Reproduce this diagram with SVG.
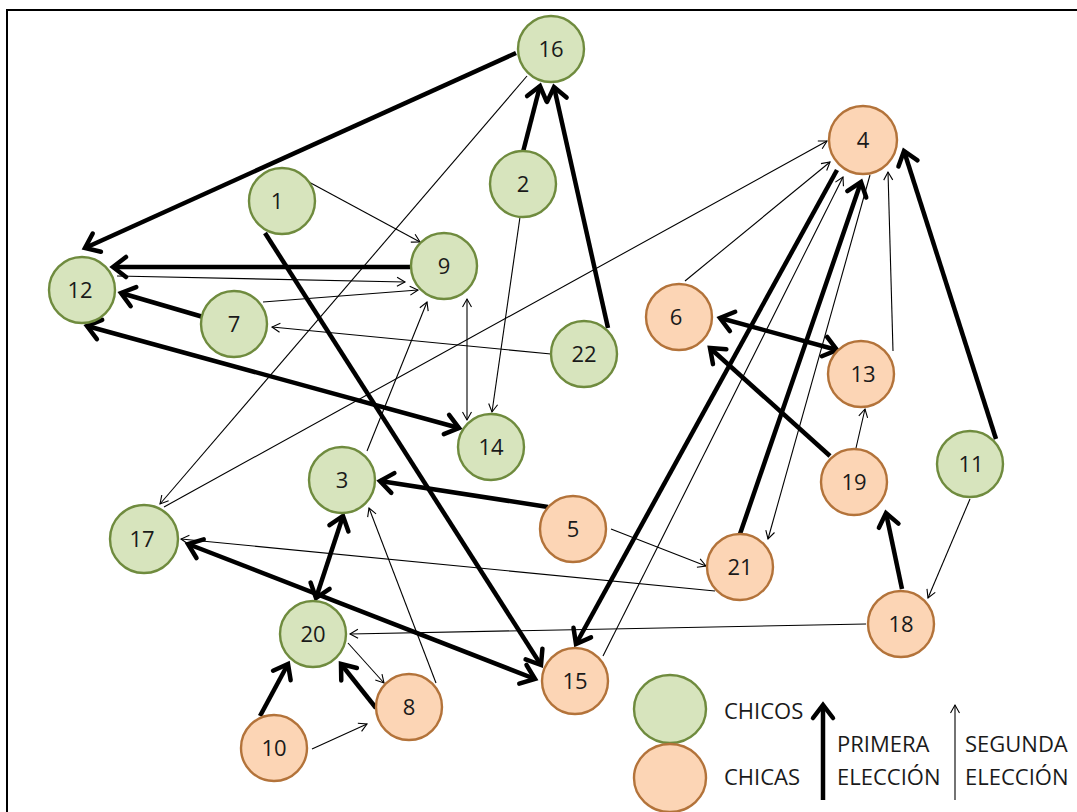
<svg xmlns="http://www.w3.org/2000/svg" width="1077" height="812" viewBox="0 0 1077 812">
<defs>
<style>
.g{fill:#d7e4bd;stroke:#6f8b3e;stroke-width:2.4}
.o{fill:#fcd5b5;stroke:#b3733a;stroke-width:2.4}
.t{font-family:"Open Sans","Liberation Sans",Arial,sans-serif;font-size:22px;fill:#1a1a1a;text-anchor:middle}
.l{font-family:"Open Sans","Liberation Sans",Arial,sans-serif;font-size:22px;fill:#1a1a1a}
.k{stroke:#000;stroke-width:4.5;fill:none;marker-end:url(#hk)}
.kd{stroke:#000;stroke-width:4.5;fill:none;marker-end:url(#hk);marker-start:url(#hk)}
.s{stroke:#000;stroke-width:1.1;fill:none;marker-end:url(#hs)}
.sd{stroke:#000;stroke-width:1.1;fill:none;marker-end:url(#hs);marker-start:url(#hs)}
</style>
<marker id="hk" markerUnits="userSpaceOnUse" viewBox="-18 -14 22 28" markerWidth="22" markerHeight="28" refX="0" refY="0" orient="auto-start-reverse">
<path d="M-13,-10 L0,0 L-13,10" fill="none" stroke="#000" stroke-width="4.5" stroke-linejoin="miter" stroke-linecap="round"/>
</marker>
<marker id="hs" markerUnits="userSpaceOnUse" viewBox="-11 -7 13 14" markerWidth="13" markerHeight="14" refX="0" refY="0" orient="auto-start-reverse">
<path d="M-8,-4.5 L0,0 L-8,4.5" fill="none" stroke="#000" stroke-width="1.1"/>
</marker>
</defs>
<rect x="0" y="0" width="1077" height="812" fill="#fff"/>
<rect x="7" y="10" width="1100" height="830" fill="none" stroke="#000" stroke-width="2"/>

<g id="connectors">
<!-- first choice (thick) -->
<path class="k" d="M516,53 L85,248"/>
<path class="k" d="M410,267 L113,267"/>
<path class="k" d="M210,319 L121,293"/>
<path class="kd" d="M87,326 L459,428"/>
<path class="k" d="M265,233 L541,665"/>
<path class="k" d="M523,152 L540,86"/>
<path class="k" d="M608,328 L554,87"/>
<path class="k" d="M548,507 L380,481"/>
<path class="kd" d="M343,516 L316,598"/>
<path class="kd" d="M188,544 L535,679"/>
<path class="k" d="M260,716 L288,664"/>
<path class="k" d="M376,708 L341,664"/>
<path class="k" d="M837,170 L576,644"/>
<path class="k" d="M740,534 L861,182"/>
<path class="kd" d="M720,318 L837,350"/>
<path class="k" d="M830,456 L710,348"/>
<path class="k" d="M996,439 L904,151"/>
<path class="k" d="M902,589 L886,513"/>
<!-- second choice (thin) -->
<path class="s" d="M307,181 L420,242"/>
<path class="s" d="M117,276 L405,282"/>
<path class="s" d="M263,302 L418,290"/>
<path class="s" d="M551,354 L272,327"/>
<path class="s" d="M527,76 L160,504"/>
<path class="s" d="M164,507 L827,141"/>
<path class="s" d="M520,217 L492,412"/>
<path class="sd" d="M467,299 L467,420"/>
<path class="s" d="M367,451 L427,302"/>
<path class="s" d="M436,683 L369,508"/>
<path class="s" d="M348,643 L384,683"/>
<path class="s" d="M312,749 L367,724"/>
<path class="s" d="M866,624 L350,634"/>
<path class="s" d="M715,591 L181,539"/>
<path class="s" d="M611,529 L706,566"/>
<path class="s" d="M685,281 L830,162"/>
<path class="s" d="M603,656 L843,177"/>
<path class="s" d="M870,175 L768,539"/>
<path class="s" d="M893,351 L888,172"/>
<path class="s" d="M856,448 L865,409"/>
<path class="s" d="M970,499 L928,598"/>
</g>

<g id="n16"><circle class="g" cx="551" cy="49" r="33"/><text class="t" x="551" y="57">16</text></g>
<g id="n4"><circle class="o" cx="863" cy="140" r="34"/><text class="t" x="863" y="148">4</text></g>
<g id="n1"><circle class="g" cx="282" cy="201" r="33"/><text class="t" x="277" y="209">1</text></g>
<g id="n2"><circle class="g" cx="523" cy="184" r="33"/><text class="t" x="523" y="192">2</text></g>
<g id="n9"><circle class="g" cx="444" cy="266" r="33"/><text class="t" x="444" y="274">9</text></g>
<g id="n12"><circle class="g" cx="82" cy="290" r="33"/><text class="t" x="80" y="298">12</text></g>
<g id="n7"><circle class="g" cx="234" cy="324" r="33"/><text class="t" x="234" y="332">7</text></g>
<g id="n22"><circle class="g" cx="584" cy="354" r="33"/><text class="t" x="584" y="362">22</text></g>
<g id="n6"><circle class="o" cx="679" cy="317" r="33"/><text class="t" x="676" y="325">6</text></g>
<g id="n13"><circle class="o" cx="861" cy="374" r="33"/><text class="t" x="863" y="382">13</text></g>
<g id="n14"><circle class="g" cx="491" cy="447" r="33"/><text class="t" x="491" y="455">14</text></g>
<g id="n3"><circle class="g" cx="342" cy="480" r="33"/><text class="t" x="342" y="488">3</text></g>
<g id="n17"><circle class="g" cx="144" cy="539" r="34"/><text class="t" x="142" y="547">17</text></g>
<g id="n5"><circle class="o" cx="573" cy="529" r="33"/><text class="t" x="573" y="537">5</text></g>
<g id="n19"><circle class="o" cx="854" cy="482" r="33"/><text class="t" x="854" y="490">19</text></g>
<g id="n11"><circle class="g" cx="970" cy="464" r="33"/><text class="t" x="971" y="472">11</text></g>
<g id="n21"><circle class="o" cx="740" cy="567" r="33"/><text class="t" x="740" y="575">21</text></g>
<g id="n18"><circle class="o" cx="901" cy="624" r="33"/><text class="t" x="901" y="632">18</text></g>
<g id="n20"><circle class="g" cx="313" cy="634" r="33"/><text class="t" x="313" y="642">20</text></g>
<g id="n8"><circle class="o" cx="409" cy="707" r="33"/><text class="t" x="409" y="715">8</text></g>
<g id="n15"><circle class="o" cx="575" cy="681" r="33"/><text class="t" x="575" y="689">15</text></g>
<g id="n10"><circle class="o" cx="274" cy="748" r="33"/><text class="t" x="274" y="756">10</text></g>

<g id="legend">
<ellipse class="g" cx="670" cy="709" rx="36" ry="34"/>
<ellipse class="o" cx="670" cy="778" rx="36" ry="34"/>
<text class="l" x="724" y="719">CHICOS</text>
<text class="l" x="724" y="785">CHICAS</text>
<path class="k" d="M823,800 L823,705"/>
<text class="l" x="837" y="752">PRIMERA</text>
<text class="l" x="837" y="785">ELECCIÓN</text>
<path class="s" d="M955,800 L955,705"/>
<text class="l" x="965" y="752">SEGUNDA</text>
<text class="l" x="965" y="785">ELECCIÓN</text>
</g>
</svg>
